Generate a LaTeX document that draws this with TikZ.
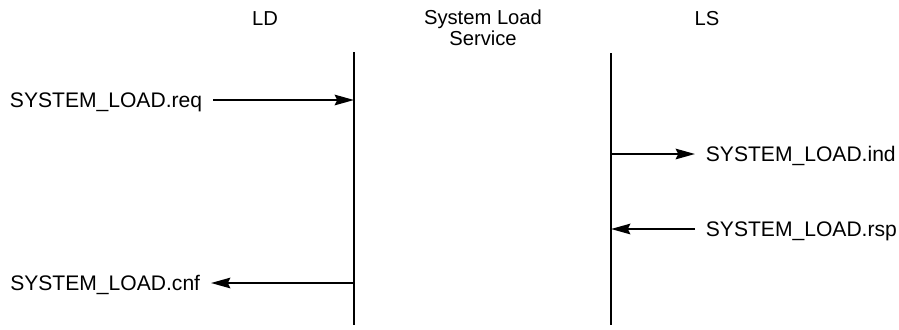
\documentclass[tikz,border=0pt]{standalone}
\usepackage{fontspec}
\setmainfont{Liberation Sans}
\usetikzlibrary{positioning,arrows.meta}

\begin{document}
\begin{tikzpicture}[
    x=0.02cm, y=-0.02cm,
    node distance=4pt,
    every node/.style={font=\fontsize{12}{14}\selectfont},
    head/.style={font=\fontsize{11.5}{9.5}\selectfont, align=center, inner sep=0pt},
    msgtext/.style={inner xsep=6pt, inner ysep=0pt, text height=8.6pt, text depth=0pt},
    lifeline/.style={line width=1.5pt},
    msg/.style={line width=1.3pt, -{Stealth[length=11pt,width=6pt,inset=1.5pt]}}
  ]
  \useasboundingbox (0,0) rectangle (899,329);

  % entities
  \node[head, anchor=base] (LD) at (265,25) {LD};
  \node[head, anchor=north] (SLS) at (483,10) {System Load\\Service};
  \node[head, anchor=base] (LS) at (707,25) {LS};

  % lifelines
  \coordinate (LDtop) at (354,52);
  \coordinate (LDbot) at (354,325);
  \coordinate (LStop) at (611,53);
  \coordinate (LSbot) at (611,325);
  \draw[lifeline] (LDtop) -- (LDbot);
  \draw[lifeline] (LStop) -- (LSbot);

  % primitives
  \node[msgtext, anchor=east] (req) at (213,100) {SYSTEM\_LOAD.req};
  \node[msgtext, anchor=west] (ind) at (695,154) {SYSTEM\_LOAD.ind};
  \node[msgtext, anchor=west] (rsp) at (695,229) {SYSTEM\_LOAD.rsp};
  \node[msgtext, anchor=east] (cnf) at (211,283) {SYSTEM\_LOAD.cnf};

  \draw[msg] (req) -- (req -| LDtop);
  \draw[msg] (ind -| LStop) -- (ind);
  \draw[msg] (rsp) -- (rsp -| LStop);
  \draw[msg] (cnf -| LDtop) -- (cnf);
\end{tikzpicture}
\end{document}
